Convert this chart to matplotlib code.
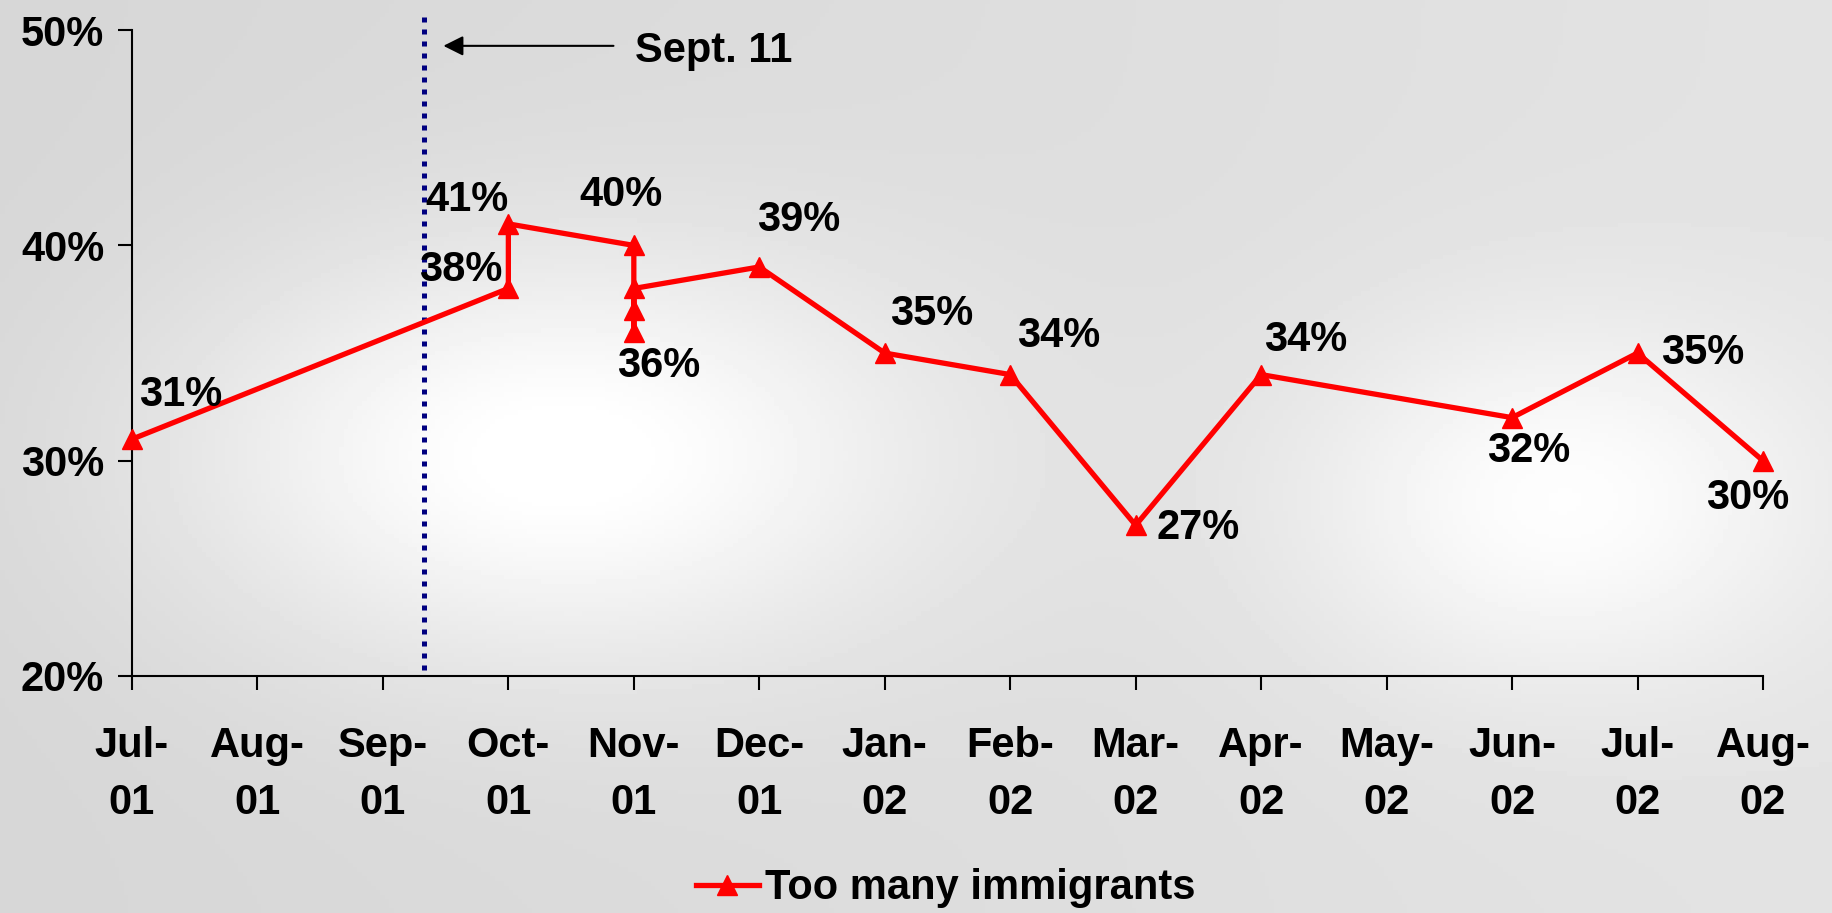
import numpy as np
import matplotlib.pyplot as plt

# x axis categories (one per month)
months = ["Jul-\n01", "Aug-\n01", "Sep-\n01", "Oct-\n01", "Nov-\n01", "Dec-\n01", "Jan-\n02",
          "Feb-\n02", "Mar-\n02", "Apr-\n02", "May-\n02", "Jun-\n02", "Jul-\n02", "Aug-\n02"]

# survey readings: month index and percent saying "too many immigrants"
obs_month = [0, 3, 3, 4, 4, 4, 4, 5, 6, 7, 8, 9, 11, 12, 13]
obs_value = [31, 38, 41, 40, 36, 37, 38, 39, 35, 34, 27, 34, 32, 35, 30]

# which readings get a label, and where the label sits (offset in points)
label_offsets = {0: (35, 32), 1: (-34, 13), 2: (-30, 17), 3: (-9, 36), 4: (18, -25),
                 7: (28, 34), 8: (34, 28), 9: (35, 28), 10: (45, -2), 11: (32, 25),
                 12: (12, -24), 13: (47, 0), 14: (-11, -27)}

sept11 = 2.33  # position of Sept. 11 on the month axis

plt.rcParams['font.family'] = ['Liberation Sans', 'DejaVu Sans']
plt.rcParams['font.weight'] = 'bold'
FS = 30

fig = plt.figure(figsize=(18.33, 9.13), dpi=100)

# soft grey background
bg = fig.add_axes([0, 0, 1, 1], zorder=-10)
xx, yy = np.meshgrid(np.linspace(0, 1, 400), np.linspace(0, 1, 200))
val = 0.84 + 0.05 * xx
val += 0.15 * np.exp(-((xx - 0.30) ** 2 / 0.04 + (yy - 0.50) ** 2 / 0.05))
val += 0.11 * np.exp(-((xx - 0.85) ** 2 / 0.02 + (yy - 0.55) ** 2 / 0.04))
val = np.clip(val, 0, 1)
bg.imshow(val, cmap='gray', vmin=0, vmax=1, aspect='auto', extent=[0, 1, 0, 1], origin='upper')
bg.axis('off')

ax = fig.add_axes([0.072, 0.2596, 0.8898, 0.7074])
ax.set_facecolor('none')

ax.plot(obs_month, obs_value, color='#ff0000', lw=3.8, marker='^', markersize=15,
        label='Too many immigrants', zorder=5, clip_on=False)

for i, (dx, dy) in label_offsets.items():
    ax.annotate(f"{obs_value[i]}%", (obs_month[i], obs_value[i]), xytext=(dx, dy),
                textcoords='offset points', ha='center', va='center',
                fontsize=FS, fontweight='bold', zorder=6)

# Sept. 11 marker
ax.plot([sept11, sept11], [20.3, 50.9], color='#000080', lw=3.6,
        linestyle=(0, (1, 1.4)), dash_capstyle='butt', clip_on=False, zorder=4)
ax.annotate("", xy=(2.46, 49.27), xytext=(3.86, 49.27),
            arrowprops=dict(arrowstyle='-|>', color='black', lw=1.5,
                            mutation_scale=30), annotation_clip=False)
ax.text(4.01, 49.05, "Sept. 11", fontsize=FS, fontweight='bold', ha='left', va='center')

ax.set_xlim(0, 13)
ax.set_ylim(20, 50)
ax.set_xticks(range(len(months)))
ax.set_xticklabels(months, fontsize=FS, fontweight='bold', linespacing=1.55)
ax.set_yticks([20, 30, 40, 50])
ax.set_yticklabels([f"{v}%" for v in [20, 30, 40, 50]], fontsize=FS, fontweight='bold')
ax.tick_params(axis='both', direction='out', length=10, width=1.5, color='black')
ax.tick_params(axis='x', pad=26)
ax.tick_params(axis='y', pad=10)
for s in ['top', 'right']:
    ax.spines[s].set_visible(False)
for s in ['left', 'bottom']:
    ax.spines[s].set_linewidth(1.5)

leg = fig.legend(loc='center', bbox_to_anchor=(0.516, 0.027), frameon=False,
                 fontsize=FS, handlelength=1.5, handletextpad=0.15)
for t in leg.get_texts():
    t.set_fontweight('bold')

fig.savefig('out.png', dpi=100)
